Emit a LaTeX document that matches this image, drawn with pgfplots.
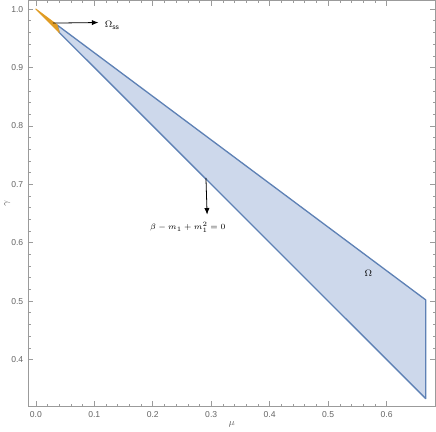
\documentclass[border=0pt]{standalone}
\usepackage{fontspec}
\setmainfont{Liberation Sans}
\usepackage{pgfplots}
\pgfplotsset{compat=1.18}
\usetikzlibrary{arrows.meta}
\definecolor{regblue}{RGB}{94,129,181}
\definecolor{regfill}{RGB}{205,216,235}
\definecolor{regorange}{RGB}{224,156,36}
\definecolor{framegray}{RGB}{155,155,155}
\definecolor{labgray}{RGB}{100,100,100}

\begin{document}
\begin{tikzpicture}
\begin{axis}[
  scale only axis, width=309pt, height=308pt,
  xmin=-0.0136, xmax=0.684, ymin=0.319, ymax=1.015,
  xtick={0,0.1,0.2,0.3,0.4,0.5,0.6},
  ytick={0.4,0.5,0.6,0.7,0.8,0.9,1.0},
  minor x tick num=4, minor y tick num=4,
  tick align=inside,
  major tick length=4pt, minor tick length=2pt,
  tick style={framegray, line width=0.4pt},
  axis line style={framegray, line width=0.5pt},
  xticklabel style={/pgf/number format/.cd, fixed, fixed zerofill, precision=1},
  yticklabel style={/pgf/number format/.cd, fixed, fixed zerofill, precision=1},
  /pgf/number format/assume math mode=true,
  tick label style={font=\fontsize{6.5}{7}\selectfont, text=labgray},
  label style={font=\fontsize{7}{8}\selectfont, text=labgray},
  xlabel={$\mu$}, ylabel={$\gamma$},
  xlabel style={yshift=4pt}, ylabel style={yshift=-6pt},
  clip=false,
]
  % region Omega
  \addplot[fill=regfill, draw=regblue, line width=1pt, line join=round]
    coordinates {(0.036,0.973)(0.667,0.502)(0.667,0.333)(0.040,0.960)} -- cycle;
  % region Omega_ss
  \addplot[fill=regorange, draw=regorange, line width=0.8pt, line join=round]
    coordinates {(0,1.0)(0.036,0.973)(0.040,0.960)} -- cycle;
  % annotations
  \draw[-{Latex[length=5pt,width=4pt]}, line width=0.6pt]
    (axis cs:0.029,0.976) -- (axis cs:0.107,0.977);
  \node[anchor=west, font=\fontsize{7}{8}\selectfont]
    at (axis cs:0.110,0.972) {$\Omega_{\mathrm{ss}}$};
  \draw[-{Latex[length=5pt,width=4pt]}, line width=0.6pt]
    (axis cs:0.291,0.711) -- (axis cs:0.293,0.648);
  \node[font=\fontsize{6.5}{7}\selectfont]
    at (axis cs:0.260,0.626) {$\beta - m_1 + m_1^2 = 0$};
  \node[font=\fontsize{7}{8}\selectfont]
    at (axis cs:0.569,0.547) {$\Omega$};
\end{axis}
\end{tikzpicture}
\end{document}
